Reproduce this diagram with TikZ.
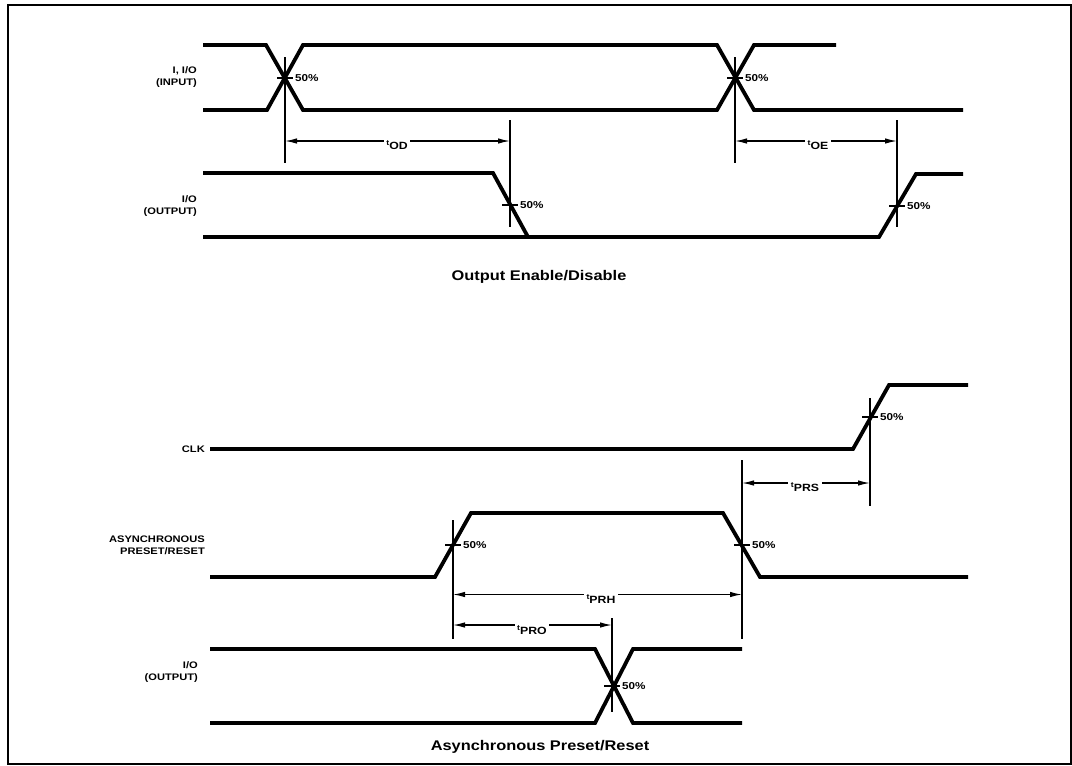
\documentclass[tikz,border=0pt]{standalone}
\usepackage{fontspec}
\setmainfont{Liberation Sans}[FakeStretch=1.17]
\usetikzlibrary{arrows.meta}
\newcommand\tlab[1]{{\fontsize{7.5}{8}\selectfont t}\raisebox{-3.5pt}{#1}}
\begin{document}
\begin{tikzpicture}[x=1pt,y=-1pt,
  sig/.style={line width=3.8pt, line join=miter},
  mk/.style={line width=1.3pt},
  dim/.style={line width=1.3pt, {Latex[length=12pt,width=5.5pt]}-{Latex[length=12pt,width=5.5pt]}},
  lbl/.style={font=\bfseries\fontsize{9.5}{12}\selectfont, align=right, anchor=east, inner sep=0pt},
  pct/.style={font=\bfseries\fontsize{10}{11}\selectfont, anchor=west, inner sep=0pt},
  tl/.style={fill=white, inner sep=2.5pt, font=\bfseries\fontsize{10.5}{11}\selectfont},
  ttl/.style={font=\bfseries\fontsize{14}{16}\selectfont}]
\useasboundingbox (0,0) rectangle (1072,766);
\draw[line width=2pt] (8,5) rectangle (1071,764);

% ---------- Output Enable/Disable ----------
\node[lbl] (lin) at (197,77) {I, I/O\\(INPUT)};
\node[lbl] (lout) at (197,206) {I/O\\(OUTPUT)};

\draw[sig] (203,45) -- (266,45) -- (303,110) -- (717,110) -- (754,45) -- (836,45);
\draw[sig] (203,110) -- (267,110) -- (303,45) -- (717,45) -- (754,110) -- (963,110);
\draw[sig] (203,173) -- (493,173) -- (528,237);
\draw[sig] (203,237) -- (879,237) -- (916,174) -- (963,174);

\coordinate (a1t) at (285,57);  \coordinate (a1b) at (285,163);
\coordinate (a2t) at (510,120); \coordinate (a2b) at (510,227);
\coordinate (a3t) at (735,57);  \coordinate (a3b) at (735,163);
\coordinate (a4t) at (897,120); \coordinate (a4b) at (897,227);
\draw[mk] (a1t) -- (a1b);
\draw[mk] (a2t) -- (a2b);
\draw[mk] (a3t) -- (a3b);
\draw[mk] (a4t) -- (a4b);

\draw[mk] (277,78) -- (293,78);  \node[pct] (p1) at (295,78) {50\%};
\draw[mk] (727,78) -- (743,78);  \node[pct] (p2) at (745,78) {50\%};
\draw[mk] (502,205) -- (518,205); \node[pct] (p3) at (520,205) {50\%};
\draw[mk] (889,206) -- (905,206); \node[pct] (p4) at (907,206) {50\%};

\coordinate (d1l) at (285,141); \coordinate (d1r) at (510,141);
\coordinate (d2l) at (735,141); \coordinate (d2r) at (897,141);
\draw[dim] (d1l) -- (d1r);
\draw[dim] (d2l) -- (d2r);
\node[tl] (tod) at (397,145) {\tlab{OD}};
\node[tl] (toe) at (818,145) {\tlab{OE}};

\node[ttl] (title1) at (539,277) {Output Enable/Disable};

% ---------- Asynchronous Preset/Reset ----------
\node[lbl] (lclk) at (205,449) {CLK};
\node[lbl] (lapr) at (205,545) {ASYNCHRONOUS\\PRESET/RESET};
\node[lbl] (lout2) at (198,672) {I/O\\(OUTPUT)};

\draw[sig] (210,449) -- (853,449) -- (889,385) -- (968,385);
\draw[sig] (210,577) -- (435,577) -- (471,513) -- (723,513) -- (760,577) -- (968,577);
\draw[sig] (210,649) -- (595,649) -- (633,723) -- (742,723);
\draw[sig] (210,723) -- (595,723) -- (633,649) -- (742,649);

\coordinate (b1t) at (870,398); \coordinate (b1b) at (870,506);
\coordinate (b2t) at (453,520); \coordinate (b2b) at (453,639);
\coordinate (b3t) at (742,460); \coordinate (b3b) at (742,639);
\coordinate (b4t) at (612,618); \coordinate (b4b) at (612,712);
\draw[mk] (b1t) -- (b1b);
\draw[mk] (b2t) -- (b2b);
\draw[mk] (b3t) -- (b3b);
\draw[mk] (b4t) -- (b4b);

\draw[mk] (862,417) -- (878,417); \node[pct] (q1) at (880,417) {50\%};
\draw[mk] (445,545) -- (461,545); \node[pct] (q2) at (463,545) {50\%};
\draw[mk] (734,545) -- (750,545); \node[pct] (q3) at (752,545) {50\%};
\draw[mk] (604,686) -- (620,686); \node[pct] (q4) at (622,686) {50\%};

\coordinate (e1l) at (742,483); \coordinate (e1r) at (870,483);
\coordinate (e2l) at (453,594.5); \coordinate (e2r) at (742,594.5);
\coordinate (e3l) at (453,625); \coordinate (e3r) at (612,625);
\draw[dim] (e1l) -- (e1r);
\draw[dim] (e2l) -- (e2r);
\draw[dim] (e3l) -- (e3r);
\node[tl] (tprs) at (805,487) {\tlab{PRS}};
\node[tl] (tprh) at (601,599) {\tlab{PRH}};
\node[tl] (tpro) at (532,630) {\tlab{PRO}};

\node[ttl] (title2) at (540,747) {Asynchronous Preset/Reset};
\end{tikzpicture}
\end{document}
